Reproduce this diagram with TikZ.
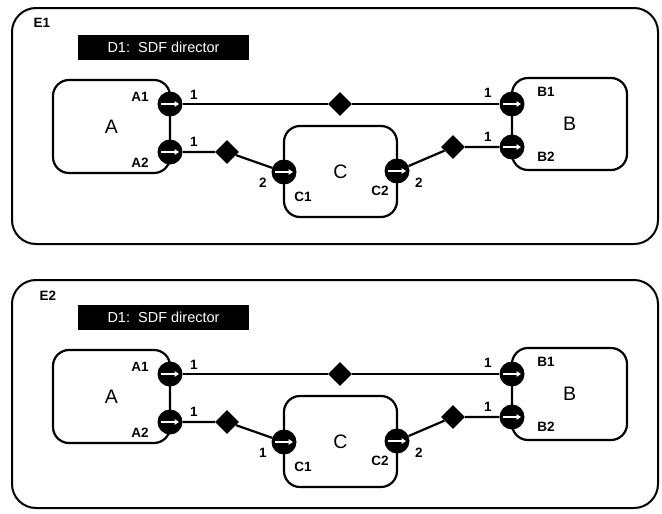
\documentclass[tikz,border=0pt]{standalone}
\usepackage{fontspec}
\setmainfont{Liberation Sans}
\usetikzlibrary{shapes.geometric,arrows.meta}
\tikzset{
  outer/.style={draw, line width=2pt, rounded corners=24pt, inner sep=0pt},
  actor/.style={draw, line width=2.2pt, rounded corners=16pt, inner sep=0pt,
                font=\fontsize{19.5}{22}\selectfont},
  port/.style={circle, fill=black, minimum size=25pt, inner sep=0pt},
  dia/.style={diamond, fill=black, minimum width=24pt, minimum height=24pt, inner sep=0pt},
  conn/.style={line width=2.2pt},
  plab/.style={font=\bfseries\fontsize{13.5}{15}\selectfont, inner sep=0pt},
  dir/.style={fill=black, text=white, font=\fontsize{14.5}{16}\selectfont,
              minimum width=171pt, minimum height=25pt, inner sep=0pt},
  parrow/.style={white, line width=1.6pt, -{Triangle[length=4.5pt,width=5.5pt]}},
}
\begin{document}
\begin{tikzpicture}[x=1pt,y=-1pt]
\useasboundingbox (0,0) rectangle (662,514);
\foreach \p/\off/\lab/\lx/\ly/\oc/\oh/\rate in {u/0/E1/42/23/126/236/2, l/270/E2/48/26/124/228/1}{
\begin{scope}[yshift=-\off pt]
  % enclosing model
  \node[outer, minimum width=646pt, minimum height=\oh pt] (\p E) at (335,\oc) {};
  \node[plab] (\p El) at (\lx,\ly) {\lab};
  % director
  \node[dir] (\p Dir) at (163.5,47.5) {D1:\ \ SDF director};
  % actors
  \node[actor, minimum width=117pt, minimum height=93pt] (\p A) at (111.5,126.5) {A};
  \node[actor, minimum width=115pt, minimum height=92pt] (\p B) at (569.5,124) {B};
  \node[actor, minimum width=113pt, minimum height=91pt] (\p C) at (340.5,171.5) {C};
  % relations
  \node[dia] (\p D0) at (340,104) {};
  \node[dia] (\p D1) at (227,152) {};
  \node[dia] (\p D2) at (453,147) {};
  % ports
  \foreach \q/\x/\y in {A1/170/104, A2/170/152, B1/512/104, B2/512/147, C1/284/172, C2/397/171}{
    \node[port] (\p\q) at (\x,\y) {};
    \draw[parrow] ([xshift=-9pt]\p\q.center) -- ([xshift=9pt]\p\q.center);
  }
  % connectors
  \draw[conn] (\p A1) -- (\p D0) -- (\p B1);
  \draw[conn] (\p A2) -- (\p D1) -- (\p C1);
  \draw[conn] (\p C2) -- (\p D2) -- (\p B2);
  % port labels
  \node[plab] (\p lA1) at (140,97) {A1};
  \node[plab] (\p lA2) at (140,163) {A2};
  \node[plab] (\p lB1) at (546,92) {B1};
  \node[plab] (\p lB2) at (546,157) {B2};
  \node[plab] (\p lC1) at (303,197) {C1};
  \node[plab] (\p lC2) at (380,191) {C2};
  % rates
  \node[plab] (\p rA1) at (194,95) {1};
  \node[plab] (\p rA2) at (194,142) {1};
  \node[plab] (\p rB1) at (488,93) {1};
  \node[plab] (\p rB2) at (488,137) {1};
  \node[plab] (\p rC1) at (263,183) {\rate};
  \node[plab] (\p rC2) at (419,183) {2};
\end{scope}
}
\end{tikzpicture}
\end{document}
